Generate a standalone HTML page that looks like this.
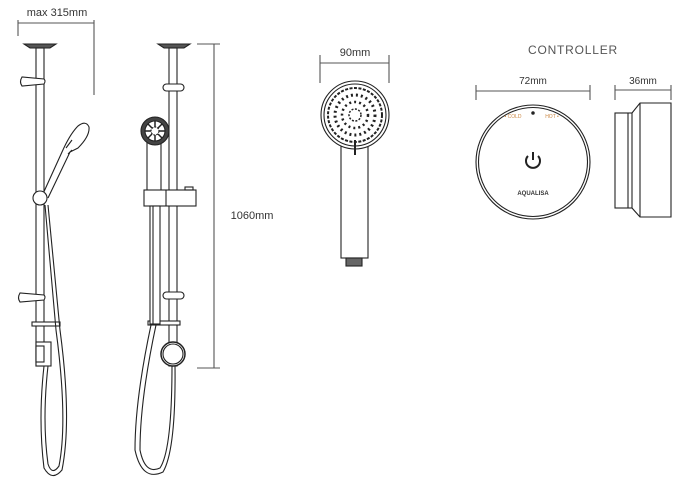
<!DOCTYPE html>
<html><head><style>
html,body{margin:0;padding:0;background:#fff;}
svg{display:block;font-family:"Liberation Sans",sans-serif;}
</style></head><body>
<svg width="682" height="483" viewBox="0 0 682 483" xmlns="http://www.w3.org/2000/svg">
<g fill="none" stroke="#222" stroke-width="1.1">
<!-- LEFT RISER -->
<line x1="18" y1="20" x2="18" y2="36" stroke="#555"/>
<line x1="94" y1="20" x2="94" y2="95" stroke="#555"/>
<line x1="18" y1="23" x2="94" y2="23" stroke="#555"/>
<path d="M24 44 L56 44 L50 48 L30 48 Z" fill="#555"/>
<rect x="36" y="48" width="8" height="318" fill="#fff"/>
<path d="M22 77 Q19 82 22 86 L44 84 Q46 81 44 79 Z" fill="#fff"/>
<path d="M20 293 Q17 298 20 302 L44 300 Q46 297 44 295 Z" fill="#fff"/>
<rect x="32" y="322" width="28" height="4" fill="#fff"/>
<rect x="36" y="342" width="15" height="24" fill="#fff"/>
<rect x="36" y="346" width="8" height="16" fill="#fff"/>
<!-- handset left -->
<path d="M42 196 L62 152 Q70 134 78 126 Q86 120 89 127 Q90 136 78 148 L70 152 L48 198" fill="#fff"/>
<path d="M66 148 L72 140 M72 150 L68 154" />
<circle cx="40" cy="198" r="7" fill="#fff"/>
<!-- hose left -->
<path d="M44 366 Q38 420 44 468 Q52 482 62 470 Q72 420 60 330 L48 205"/>
<path d="M48 366 Q42 420 48 464 Q52 476 59 466 Q68 420 56 330 L45 205"/>
<!-- MIDDLE RISER -->
<path d="M158 44 L190 44 L184 48 L164 48 Z" fill="#555"/>
<rect x="169" y="48" width="8" height="318" fill="#fff"/>
<rect x="163" y="84" width="21" height="7" rx="3.5" fill="#fff"/>
<rect x="163" y="292" width="21" height="7" rx="3.5" fill="#fff"/>
<rect x="148" y="321" width="32" height="4" fill="#fff"/>
<rect x="147" y="140" width="14" height="52" fill="#fff"/>
<circle cx="155" cy="131" r="14" fill="#444"/>
<circle cx="155" cy="131" r="10" fill="#fff" stroke="#222"/>
<circle cx="155" cy="131" r="4" fill="#fff" stroke="#222" stroke-dasharray="2 1"/>
<path d="M155 121 L155 127 M145 131 L151 131 M159 131 L165 131 M155 135 L155 141 M148 124 L152 128 M162 124 L158 128 M148 138 L152 134 M162 138 L158 134" stroke-width="1.5"/>
<rect x="144" y="190" width="52" height="16" fill="#fff"/>
<line x1="166" y1="190" x2="166" y2="206"/>
<rect x="185" y="187" width="8" height="3"/>
<rect x="150" y="206" width="10" height="118" fill="#fff"/>
<line x1="153" y1="206" x2="153" y2="324"/>
<!-- hose middle -->
<path d="M156 325 Q140 400 140 450 Q145 475 160 468 Q172 450 172 365"/>
<path d="M151 325 Q135 400 135 450 Q142 482 163 472 Q176 450 175 365"/>
<circle cx="173" cy="354" r="12" fill="#fff" stroke-width="1.5"/>
<circle cx="173" cy="354" r="10"/>
<!-- dim 1060 -->
<line x1="214" y1="44" x2="214" y2="368" stroke="#555"/>
<line x1="197" y1="44" x2="220" y2="44" stroke="#555"/>
<line x1="197" y1="368" x2="220" y2="368" stroke="#555"/>
<!-- HANDSET FRONT -->
<line x1="320" y1="55" x2="320" y2="83" stroke="#555"/>
<line x1="389" y1="55" x2="389" y2="83" stroke="#555"/>
<line x1="320" y1="63" x2="389" y2="63" stroke="#555"/>
<rect x="341" y="140" width="27" height="118" fill="#fff"/>
<rect x="346" y="258" width="16" height="8" fill="#666"/>
<circle cx="355" cy="115" r="34" fill="#fff"/>
<circle cx="355" cy="115" r="31"/>
<circle cx="355" cy="115" r="27" stroke-dasharray="3 1.5" stroke-width="2"/>
<circle cx="355" cy="115" r="20" stroke-dasharray="2 3" stroke-width="3"/>
<circle cx="355" cy="115" r="13" stroke-dasharray="2 3" stroke-width="2.5"/>
<circle cx="355" cy="115" r="6" stroke-dasharray="2 1.5" stroke-width="1.5"/>
<line x1="355" y1="140" x2="355" y2="155" stroke-width="2"/>
<!-- CONTROLLER -->
<line x1="476" y1="85" x2="476" y2="100" stroke="#555"/>
<line x1="590" y1="85" x2="590" y2="100" stroke="#555"/>
<line x1="476" y1="91" x2="590" y2="91" stroke="#555"/>
<circle cx="533" cy="162" r="57"/>
<circle cx="533" cy="162" r="54.5"/>
<path d="M528 156 A7 7 0 1 0 538 156" stroke-width="2"/>
<line x1="533" y1="152" x2="533" y2="160" stroke-width="2"/>
<circle cx="533" cy="113" r="1.2" fill="#222"/>
<line x1="615" y1="85" x2="615" y2="100" stroke="#555"/>
<line x1="671" y1="85" x2="671" y2="100" stroke="#555"/>
<line x1="615" y1="90" x2="671" y2="90" stroke="#555"/>
<rect x="615" y="113" width="17" height="95"/>
<path d="M632 113 L640 103 L671 103 L671 217 L640 217 L632 208"/>
<line x1="640" y1="103" x2="640" y2="217"/>
<line x1="628" y1="113" x2="628" y2="208"/>
</g>
<g fill="#333" font-size="11" text-anchor="middle">
<text x="57" y="16">max 315mm</text>
<text x="252" y="219">1060mm</text>
<text x="355" y="56">90mm</text>
<text x="573" y="54" font-size="12" letter-spacing="0.8" fill="#555">CONTROLLER</text>
<text x="533" y="84" font-size="10">72mm</text>
<text x="643" y="84" font-size="10">36mm</text>
<text x="533" y="195" font-size="6" font-weight="bold">AQUALISA</text>
<text x="513" y="118" font-size="5" fill="#c84">• COLD</text>
<text x="552" y="118" font-size="5" fill="#c84">HOT •</text>
</g>
</svg>
</body></html>
